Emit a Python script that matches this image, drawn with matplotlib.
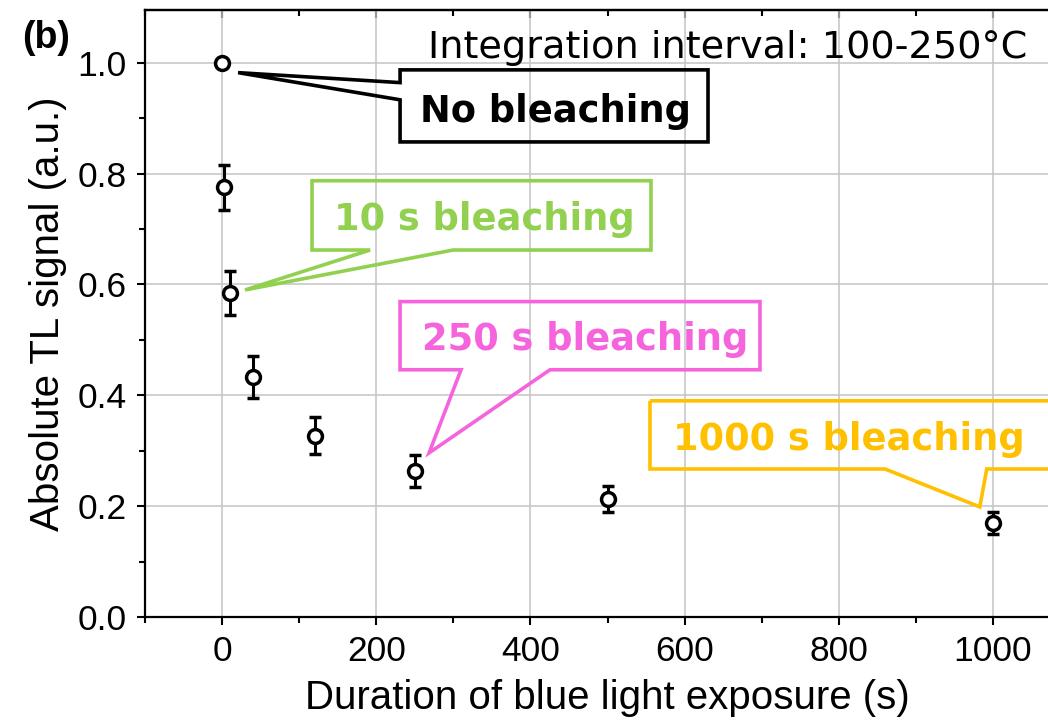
import matplotlib.pyplot as plt
from matplotlib.patches import Polygon
from matplotlib.ticker import MultipleLocator

# blue light exposure (s) vs absolute TL signal, integration 100-250 C
duration = [0, 2, 10, 40, 120, 250, 500, 1000]
signal = [1.0, 0.775, 0.584, 0.433, 0.327, 0.263, 0.213, 0.170]
signal_err = [0.0, 0.041, 0.040, 0.038, 0.033, 0.029, 0.024, 0.020]

labels = ['No bleaching', '10 s bleaching', '250 s bleaching', '1000 s bleaching']
colors = ['black', '#92d050', '#f564dc', '#ffc000']

plt.rcParams['font.family'] = ['Liberation Sans', 'DejaVu Sans']


def callout(ax, box, base, tip, side, color, text, txt_xy):
    x0, x1, y0, y1 = box
    if side == 'left':
        pts = [(x0, y1), (x1, y1), (x1, y0), (x0, y0),
               (x0, base[0]), tip, (x0, base[1])]
    else:
        pts = [(x0, y1), (x1, y1), (x1, y0), (base[1], y0), tip,
               (base[0], y0), (x0, y0)]
    ax.add_patch(Polygon(pts, closed=True, fill=False, edgecolor=color,
                         linewidth=2.6, joinstyle='miter', zorder=4))
    ax.text(txt_xy[0], txt_xy[1], text, color=color, fontsize=26.5,
            fontweight='bold', family='DejaVu Sans', ha='center',
            va='baseline', zorder=5)


fig = plt.figure(figsize=(10.48, 7.28), dpi=100)
ax = fig.add_axes([145 / 1048, 111 / 728, 925 / 1048, 607 / 728])

ax.errorbar(duration, signal, yerr=signal_err, fmt='o', color='black',
            mfc='white', mec='black', ms=10, mew=2.5, elinewidth=2.2,
            capsize=4.5, capthick=2.2, zorder=6)

ax.set_xlim(-100, 1100)
ax.set_ylim(0, 1.095)
ax.xaxis.set_major_locator(MultipleLocator(200))
ax.xaxis.set_minor_locator(MultipleLocator(100))
ax.yaxis.set_major_locator(MultipleLocator(0.2))
ax.yaxis.set_minor_locator(MultipleLocator(0.1))
ax.yaxis.set_major_formatter(plt.FormatStrFormatter('%.1f'))
ax.grid(True, which='major', color='#c4c4c4', linewidth=1.1)
ax.set_axisbelow(True)

ax.tick_params(which='major', direction='out', length=6, width=1.5,
               labelsize=25.5, pad=7)
ax.tick_params(which='minor', direction='out', length=4, width=1.5)
for s in ax.spines.values():
    s.set_linewidth(1.6)

top = ax.secondary_xaxis('top')
top.xaxis.set_major_locator(MultipleLocator(200))
top.xaxis.set_minor_locator(MultipleLocator(100))
top.tick_params(which='both', direction='in', labeltop=False, width=1.5)
top.tick_params(which='major', length=6)
top.tick_params(which='minor', length=4)
top.spines['top'].set_linewidth(1.6)

ax.set_xlabel('Duration of blue light exposure (s)', fontsize=29, labelpad=8)
ax.set_ylabel('Absolute TL signal (a.u.)', fontsize=29, labelpad=8)

# callout boxes (data coordinates)
callout(ax, (230.9, 630.4, 0.857, 0.987), (0.933, 0.964), (20.8, 0.982),
        'left', colors[0], labels[0], (433, 0.8935))
callout(ax, (116.7, 556.4, 0.662, 0.787), (192, 299.6), (29.8, 0.590),
        'bottom', colors[1], labels[1], (340, 0.6986))
callout(ax, (230.9, 697.8, 0.446, 0.569), (310, 425.4), (268.5, 0.296),
        'bottom', colors[2], labels[2], (471, 0.482))
callout(ax, (555.1, 1095, 0.267, 0.390), (860, 992), (983, 0.1986),
        'bottom', colors[3], labels[3], (813, 0.3014))

ax.text(1045, 1.009, 'Integration interval: 100-250°C', fontsize=27.5,
        family='DejaVu Sans', ha='right', va='baseline')
fig.text(22 / 1048, 1 - 48 / 728, '(b)', fontsize=27, fontweight='bold')

fig.savefig('out.png', dpi=100)
